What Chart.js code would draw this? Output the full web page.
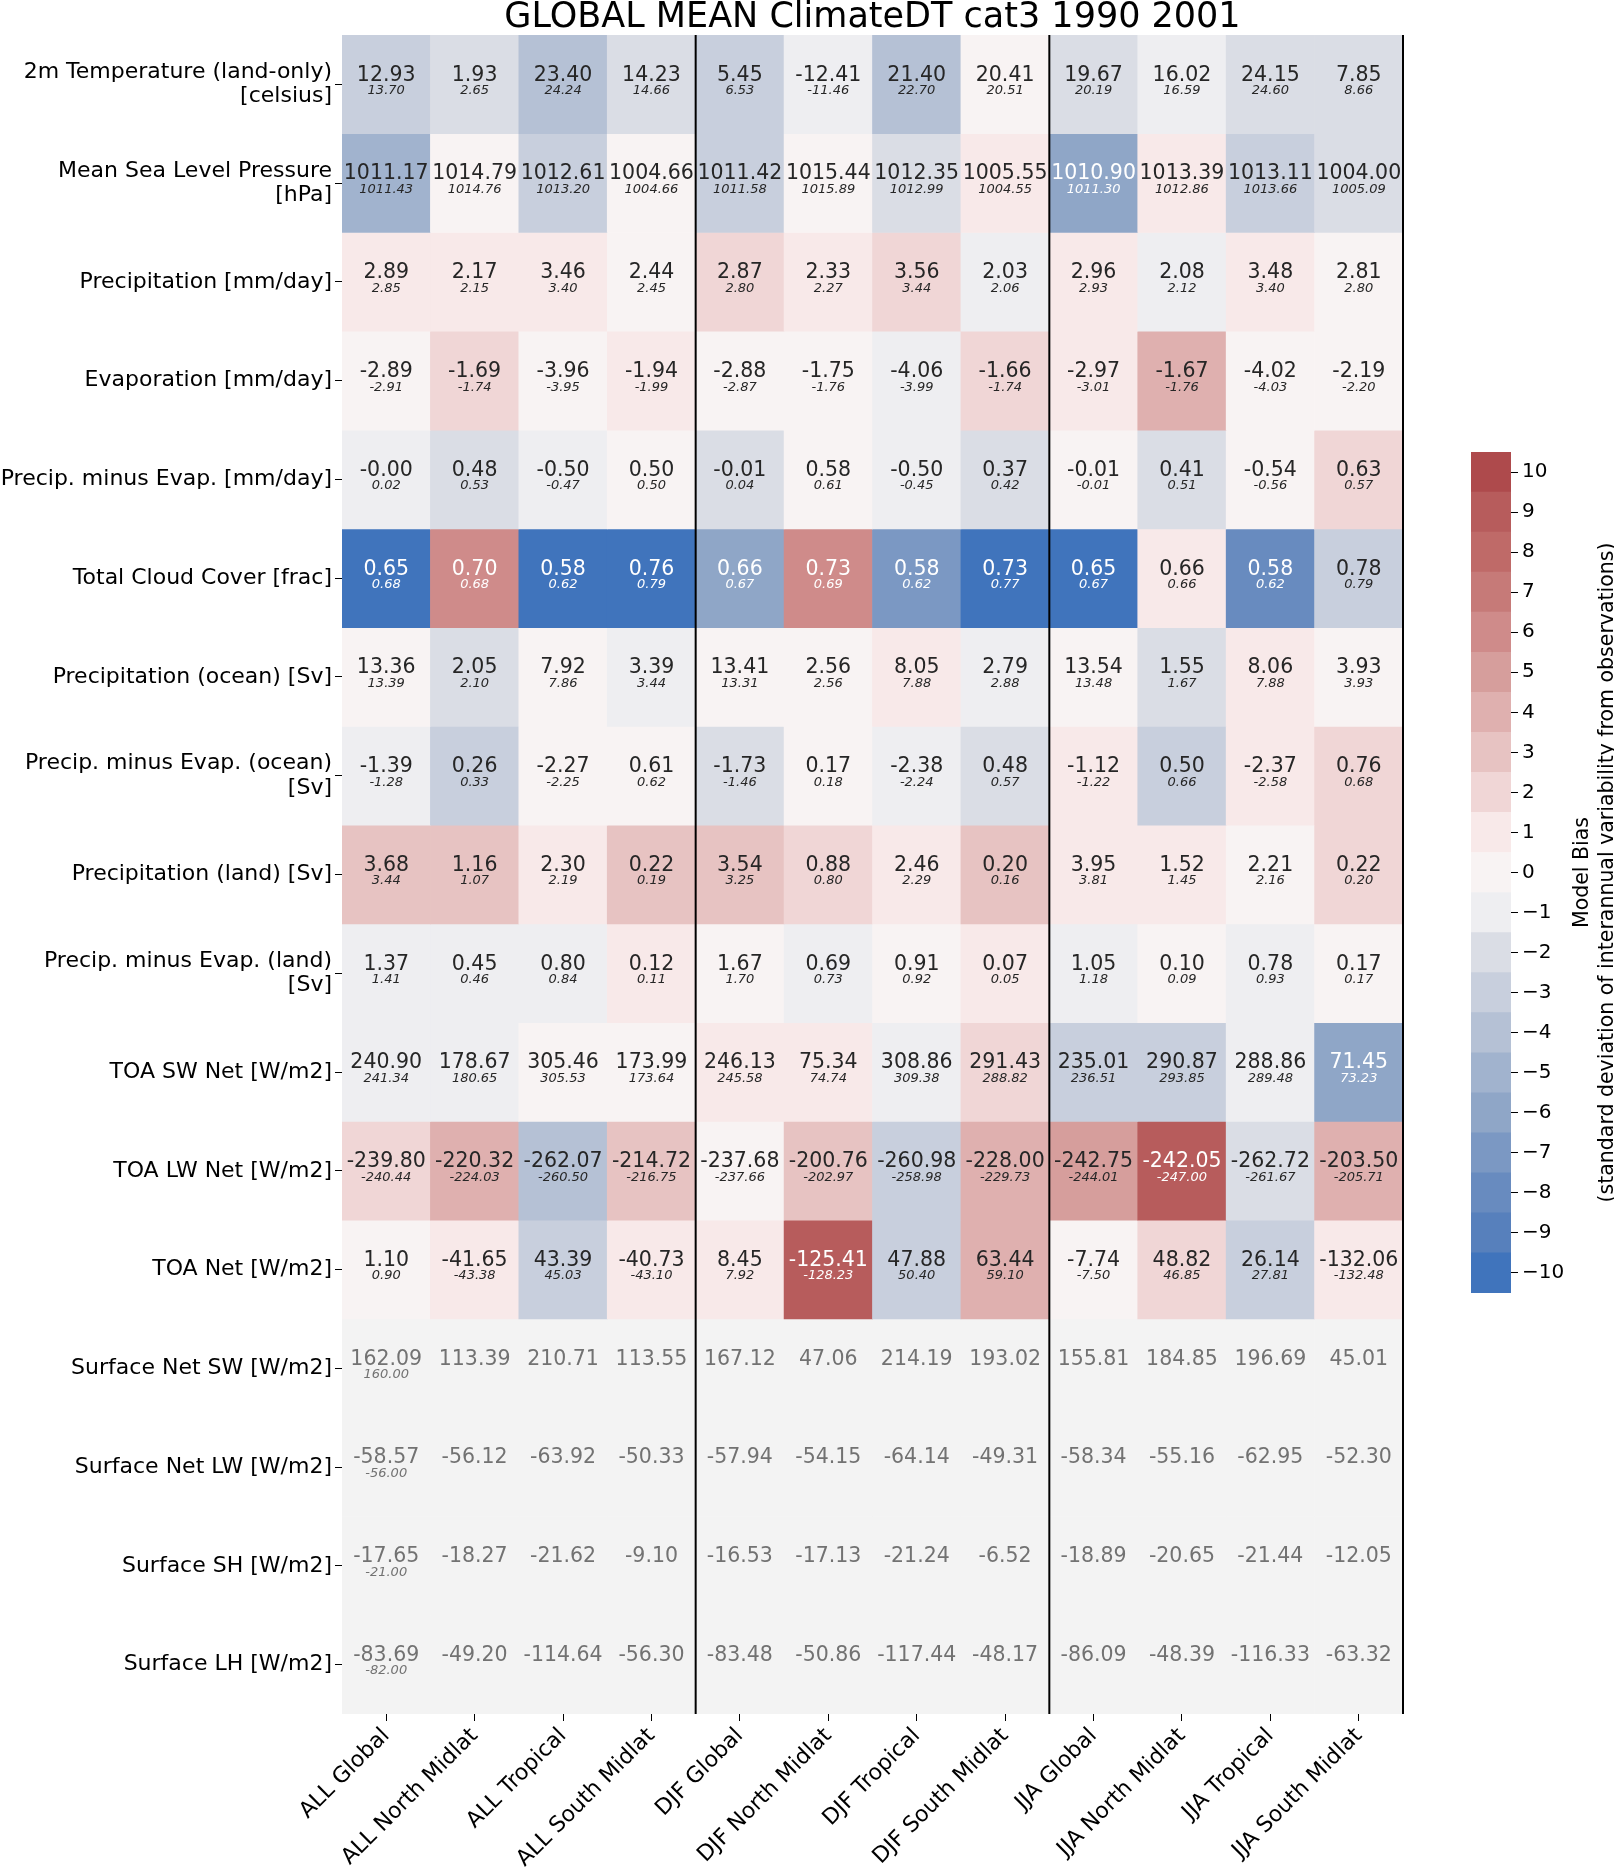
<!DOCTYPE html>
<html>
<head>
<meta charset="utf-8">
<title>GLOBAL MEAN ClimateDT cat3 1990 2001</title>
<script src="https://cdn.jsdelivr.net/npm/chart.js@4.4.0/dist/chart.umd.min.js"></script>
<style>
  body { margin: 0; background: #fff; }
  #wrap { position: relative; width: 1614px; height: 1868px; }
  #heatmap { position: absolute; left: 0; top: 0; }
  #colorbar { position: absolute; left: 1400px; top: 400px; }
</style>
</head>
<body>
<div id="wrap">
  <canvas id="heatmap" width="1614" height="1868"></canvas>
  <canvas id="colorbar" width="214" height="960"></canvas>
</div>
<script>
// rows (variables) and columns (season + region)
const rowLabels = [
  '2m Temperature (land-only)\n[celsius]',
  'Mean Sea Level Pressure\n[hPa]',
  'Precipitation [mm/day]',
  'Evaporation [mm/day]',
  'Precip. minus Evap. [mm/day]',
  'Total Cloud Cover [frac]',
  'Precipitation (ocean) [Sv]',
  'Precip. minus Evap. (ocean)\n[Sv]',
  'Precipitation (land) [Sv]',
  'Precip. minus Evap. (land)\n[Sv]',
  'TOA SW Net [W/m2]',
  'TOA LW Net [W/m2]',
  'TOA Net [W/m2]',
  'Surface Net SW [W/m2]',
  'Surface Net LW [W/m2]',
  'Surface SH [W/m2]',
  'Surface LH [W/m2]'
];
const colLabels = [
  'ALL Global', 'ALL North Midlat', 'ALL Tropical', 'ALL South Midlat',
  'DJF Global', 'DJF North Midlat', 'DJF Tropical', 'DJF South Midlat',
  'JJA Global', 'JJA North Midlat', 'JJA Tropical', 'JJA South Midlat'
];

// model values (big numbers)
const modelValues = [
  [12.93, 1.93, 23.40, 14.23, 5.45, -12.41, 21.40, 20.41, 19.67, 16.02, 24.15, 7.85],
  [1011.17, 1014.79, 1012.61, 1004.66, 1011.42, 1015.44, 1012.35, 1005.55, 1010.90, 1013.39, 1013.11, 1004.00],
  [2.89, 2.17, 3.46, 2.44, 2.87, 2.33, 3.56, 2.03, 2.96, 2.08, 3.48, 2.81],
  [-2.89, -1.69, -3.96, -1.94, -2.88, -1.75, -4.06, -1.66, -2.97, -1.67, -4.02, -2.19],
  [-0, 0.48, -0.50, 0.50, -0.01, 0.58, -0.50, 0.37, -0.01, 0.41, -0.54, 0.63],
  [0.65, 0.70, 0.58, 0.76, 0.66, 0.73, 0.58, 0.73, 0.65, 0.66, 0.58, 0.78],
  [13.36, 2.05, 7.92, 3.39, 13.41, 2.56, 8.05, 2.79, 13.54, 1.55, 8.06, 3.93],
  [-1.39, 0.26, -2.27, 0.61, -1.73, 0.17, -2.38, 0.48, -1.12, 0.50, -2.37, 0.76],
  [3.68, 1.16, 2.30, 0.22, 3.54, 0.88, 2.46, 0.20, 3.95, 1.52, 2.21, 0.22],
  [1.37, 0.45, 0.80, 0.12, 1.67, 0.69, 0.91, 0.07, 1.05, 0.10, 0.78, 0.17],
  [240.90, 178.67, 305.46, 173.99, 246.13, 75.34, 308.86, 291.43, 235.01, 290.87, 288.86, 71.45],
  [-239.80, -220.32, -262.07, -214.72, -237.68, -200.76, -260.98, -228.00, -242.75, -242.05, -262.72, -203.50],
  [1.10, -41.65, 43.39, -40.73, 8.45, -125.41, 47.88, 63.44, -7.74, 48.82, 26.14, -132.06],
  [162.09, 113.39, 210.71, 113.55, 167.12, 47.06, 214.19, 193.02, 155.81, 184.85, 196.69, 45.01],
  [-58.57, -56.12, -63.92, -50.33, -57.94, -54.15, -64.14, -49.31, -58.34, -55.16, -62.95, -52.30],
  [-17.65, -18.27, -21.62, -9.10, -16.53, -17.13, -21.24, -6.52, -18.89, -20.65, -21.44, -12.05],
  [-83.69, -49.20, -114.64, -56.30, -83.48, -50.86, -117.44, -48.17, -86.09, -48.39, -116.33, -63.32]
];

// observation values (small italic numbers), null = none
const obsValues = [
  [13.70, 2.65, 24.24, 14.66, 6.53, -11.46, 22.70, 20.51, 20.19, 16.59, 24.60, 8.66],
  [1011.43, 1014.76, 1013.20, 1004.66, 1011.58, 1015.89, 1012.99, 1004.55, 1011.30, 1012.86, 1013.66, 1005.09],
  [2.85, 2.15, 3.40, 2.45, 2.80, 2.27, 3.44, 2.06, 2.93, 2.12, 3.40, 2.80],
  [-2.91, -1.74, -3.95, -1.99, -2.87, -1.76, -3.99, -1.74, -3.01, -1.76, -4.03, -2.20],
  [0.02, 0.53, -0.47, 0.50, 0.04, 0.61, -0.45, 0.42, -0.01, 0.51, -0.56, 0.57],
  [0.68, 0.68, 0.62, 0.79, 0.67, 0.69, 0.62, 0.77, 0.67, 0.66, 0.62, 0.79],
  [13.39, 2.10, 7.86, 3.44, 13.31, 2.56, 7.88, 2.88, 13.48, 1.67, 7.88, 3.93],
  [-1.28, 0.33, -2.25, 0.62, -1.46, 0.18, -2.24, 0.57, -1.22, 0.66, -2.58, 0.68],
  [3.44, 1.07, 2.19, 0.19, 3.25, 0.80, 2.29, 0.16, 3.81, 1.45, 2.16, 0.20],
  [1.41, 0.46, 0.84, 0.11, 1.70, 0.73, 0.92, 0.05, 1.18, 0.09, 0.93, 0.17],
  [241.34, 180.65, 305.53, 173.64, 245.58, 74.74, 309.38, 288.82, 236.51, 293.85, 289.48, 73.23],
  [-240.44, -224.03, -260.50, -216.75, -237.66, -202.97, -258.98, -229.73, -244.01, -247.00, -261.67, -205.71],
  [0.90, -43.38, 45.03, -43.10, 7.92, -128.23, 50.40, 59.10, -7.50, 46.85, 27.81, -132.48],
  [160.00, null, null, null, null, null, null, null, null, null, null, null],
  [-56.00, null, null, null, null, null, null, null, null, null, null, null],
  [-21.00, null, null, null, null, null, null, null, null, null, null, null],
  [-82.00, null, null, null, null, null, null, null, null, null, null, null]
];

// model bias in std devs (cell colour class), null = no obs variability
const biasLevels = [
  [-3, -2, -4, -2, -3, -1, -4, 0, -2, -1, -2, -2],
  [-5, 0, -3, 0, -3, 0, -2, 1, -6, 1, -3, -2],
  [1, 1, 1, 0, 2, 1, 2, -1, 1, -1, 1, 0],
  [0, 2, 0, 1, 0, 0, -1, 2, 1, 4, 0, 0],
  [-1, -2, -1, 0, -2, 0, -1, -2, 0, -2, 0, 2],
  [-10, 6, -10, -10, -6, 6, -7, -10, -10, 1, -8, -3],
  [0, -2, 0, -1, 0, 0, 1, -1, 0, -2, 1, 0],
  [-1, -3, 0, 0, -2, 0, -1, -2, 1, -3, 1, 2],
  [3, 3, 1, 3, 3, 2, 1, 3, 1, 1, 0, 2],
  [-1, -1, -1, 1, 0, -1, 0, 1, -1, 0, -1, 0],
  [-1, -1, 0, 0, 1, 1, -1, 2, -3, -3, -1, -6],
  [2, 4, -4, 3, 0, 3, -3, 4, 5, 9, -2, 4],
  [0, 1, -3, 1, 1, 9, -3, 4, 0, 2, -3, 1],
  [null, null, null, null, null, null, null, null, null, null, null, null],
  [null, null, null, null, null, null, null, null, null, null, null, null],
  [null, null, null, null, null, null, null, null, null, null, null, null],
  [null, null, null, null, null, null, null, null, null, null, null, null]
];

const colorbarTicks = [-10, -9, -8, -7, -6, -5, -4, -3, -2, -1, 0, 1, 2, 3, 4, 5, 6, 7, 8, 9, 10];
const groupEnds = [3, 7, 11]; // last column of ALL / DJF / JJA

// discrete palette, index = level + 10
const biasColors = [
  '#4074bc', '#5780bc', '#688bbf', '#7b98c3', '#8fa6c7', '#a1b3ce', '#b5c1d5',
  '#c8cfdd', '#dadde5', '#eeeef1', '#f8f3f3', '#f8e9e9', '#f0d6d6', '#e7c3c2',
  '#dfb0af', '#d69e9c', '#cf8b8a', '#c67a78', '#bf6a68', '#b75c5c', '#ae4a4c'
];
const nanColor = '#f3f3f3';
const FONT = '"DejaVu Sans", "Liberation Sans", sans-serif';

function cellColor(lvl) {
  return lvl === null ? nanColor : biasColors[lvl + 10];
}

function fmt(v) {
  if (v < 0 || Object.is(v, -0)) return '-' + Math.abs(v).toFixed(2);
  return v.toFixed(2);
}

// annotations inside the cells
const cellText = {
  id: 'cellText',
  afterDatasetsDraw(chart) {
    const ctx = chart.ctx;
    ctx.save();
    ctx.textAlign = 'center';
    ctx.textBaseline = 'middle';
    chart.data.datasets.forEach((ds, r) => {
      chart.getDatasetMeta(r).data.forEach((bar, c) => {
        const cy = (bar.y + bar.base) / 2;
        const lvl = biasLevels[r][c];
        ctx.fillStyle = lvl === null ? '#727272' : (Math.abs(lvl) >= 6 ? '#ffffff' : '#262626');
        ctx.font = '20.5px ' + FONT;
        ctx.fillText(fmt(modelValues[r][c]), bar.x, cy - 9);
        if (obsValues[r][c] !== null) {
          ctx.font = 'italic 13px ' + FONT;
          ctx.fillText(fmt(obsValues[r][c]), bar.x, cy + 6.5);
        }
      });
    });
    ctx.restore();
  }
};

// black lines between season groups
const groupLines = {
  id: 'groupLines',
  afterDatasetsDraw(chart) {
    const ctx = chart.ctx;
    const area = chart.chartArea;
    const bars = chart.getDatasetMeta(0).data;
    ctx.save();
    ctx.strokeStyle = '#000';
    ctx.lineWidth = 2;
    groupEnds.forEach(i => {
      const px = bars[i].x + bars[i].width / 2;
      ctx.beginPath();
      ctx.moveTo(px, area.top);
      ctx.lineTo(px, area.bottom);
      ctx.stroke();
    });
    ctx.restore();
  }
};

new Chart(document.getElementById('heatmap'), {
  type: 'bar',
  data: {
    labels: colLabels,
    datasets: rowLabels.map((lab, r) => ({
      label: lab,
      data: colLabels.map(() => [r, r + 1]),
      backgroundColor: biasLevels[r].map(cellColor),
      grouped: false,
      barPercentage: 1,
      categoryPercentage: 1,
      borderWidth: 0
    }))
  },
  options: {
    responsive: false,
    animation: false,
    devicePixelRatio: 1,
    layout: { padding: { left: 0, right: 211, top: 0, bottom: 0 } },
    plugins: {
      legend: { display: false },
      tooltip: { enabled: false },
      title: {
        display: true,
        text: 'GLOBAL MEAN ClimateDT cat3 1990 2001',
        fullSize: false,
        color: '#000',
        font: { family: FONT, size: 35, weight: 'normal', lineHeight: 1 },
        padding: { top: 0, bottom: 0 }
      }
    },
    scales: {
      x: {
        grid: { offset: false, drawOnChartArea: false, tickLength: 7, color: '#000' },
        border: { display: false },
        ticks: {
          minRotation: 45, maxRotation: 45, autoSkip: false,
          color: '#000', padding: 2,
          font: { family: FONT, size: 22 }
        },
        afterFit(s) { s.height = 154; }
      },
      y: {
        min: 0,
        max: 17,
        reverse: true,
        afterBuildTicks(s) { s.ticks = rowLabels.map((_, r) => ({ value: r + 0.5 })); },
        afterFit(s) { s.width = 342; },
        grid: { drawOnChartArea: false, tickLength: 7, color: '#000' },
        border: { display: false },
        ticks: {
          autoSkip: false,
          color: '#000',
          padding: 3,
          font: { family: FONT, size: 22, lineHeight: 1.1 },
          callback: v => rowLabels[Math.floor(v)].split('\n')
        }
      }
    }
  },
  plugins: [groupLines, cellText]
});

// colourbar label, rotated bottom-to-top like matplotlib
const colorbarTitle = {
  id: 'colorbarTitle',
  afterDraw(chart) {
    const ctx = chart.ctx;
    const area = chart.chartArea;
    ctx.save();
    ctx.translate(area.right + 72, (area.top + area.bottom) / 2);
    ctx.rotate(-Math.PI / 2);
    ctx.fillStyle = '#000';
    ctx.textAlign = 'center';
    ctx.textBaseline = 'middle';
    ctx.font = '20.5px ' + FONT;
    ctx.fillText('Model Bias', 0, 0);
    ctx.fillText('(standard deviation of interannual variability from observations)', 0, 25);
    ctx.restore();
  }
};

new Chart(document.getElementById('colorbar'), {
  type: 'bar',
  data: {
    labels: [''],
    datasets: colorbarTicks.map(v => ({
      data: [[v - 0.5, v + 0.5]],
      backgroundColor: biasColors[v + 10],
      grouped: false,
      barPercentage: 1,
      categoryPercentage: 1,
      borderWidth: 0
    }))
  },
  options: {
    responsive: false,
    animation: false,
    devicePixelRatio: 1,
    layout: { padding: { left: 71, right: 0, top: 52, bottom: 67 } },
    plugins: { legend: { display: false }, tooltip: { enabled: false } },
    scales: {
      x: { display: false },
      y: {
        position: 'right',
        min: -10.5,
        max: 10.5,
        afterBuildTicks(s) { s.ticks = colorbarTicks.map(v => ({ value: v })); },
        afterFit(s) { s.width = 103; },
        grid: { drawOnChartArea: false, tickLength: 7, color: '#000' },
        border: { display: false },
        ticks: {
          color: '#000',
          padding: 4,
          font: { family: FONT, size: 20 },
          callback: v => (v < 0 ? '\u2212' + Math.abs(v) : String(v))
        }
      }
    }
  },
  plugins: [colorbarTitle]
});
</script>
</body>
</html>
